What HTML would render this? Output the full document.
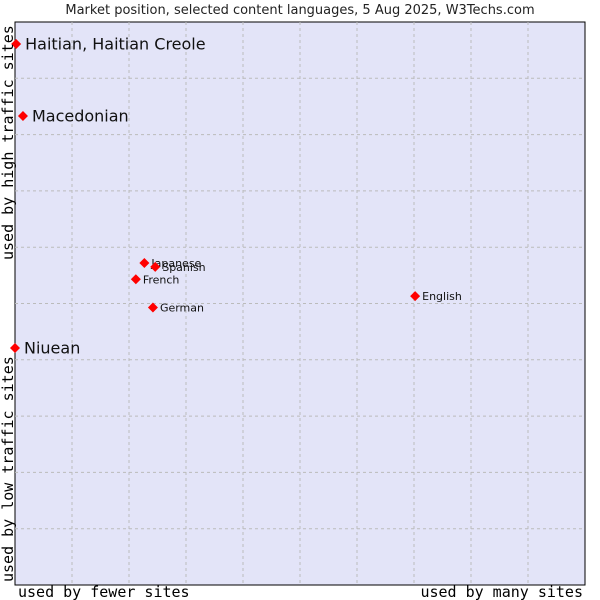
<!DOCTYPE html>
<html><head><meta charset="utf-8"><style>
body{margin:0;background:#fff;}
svg{display:block;font-family:"DejaVu Sans","Liberation Sans",sans-serif;}
</style></head><body>
<svg id="chart" width="600" height="600">
<text x="300" y="14" text-anchor="middle" font-size="13" fill="#222">Market position, selected content languages, 5 Aug 2025, W3Techs.com</text>
<rect x="15" y="22" width="570" height="563" fill="#e3e4f8" stroke="#000" stroke-width="1"/>
<g id="grid"></g>
<g id="marks"></g>
<text x="18" y="597" font-family="DejaVu Sans Mono,Liberation Mono,monospace" font-size="15" fill="#000">used by fewer sites</text>
<text x="583" y="597" text-anchor="end" font-family="DejaVu Sans Mono,Liberation Mono,monospace" font-size="15" fill="#000">used by many sites</text>
<text transform="translate(13,582) rotate(-90)" font-family="DejaVu Sans Mono,Liberation Mono,monospace" font-size="15" fill="#000">used by low traffic sites</text>
<text transform="translate(13,260) rotate(-90)" font-family="DejaVu Sans Mono,Liberation Mono,monospace" font-size="15" fill="#000">used by high traffic sites</text>
</svg>
<script>
const languages=["Haitian, Haitian Creole","Macedonian","Niuean","Japanese","Spanish","French","German","English"];
const xValues=[0.2,1.4,0,22.7,24.6,21.2,24.2,70.2];
const yValues=[96.1,83.3,42.1,57.2,56.5,54.3,49.3,51.3];
const bigLabel=[true,true,true,false,false,false,false,false];
const NS="http://www.w3.org/2000/svg";
const L=15,R=585,T=22,B=585;
const sx=v=>L+v/100*(R-L), sy=v=>B-v/100*(B-T);
const grid=document.getElementById('grid');
for(let i=1;i<10;i++){
  const gx=document.createElementNS(NS,'line');
  
  
  gx.setAttribute('x1',sx(i*10));gx.setAttribute('x2',sx(i*10));gx.setAttribute('y1',T);gx.setAttribute('y2',B);
  gx.setAttribute('stroke','#bbbbbb');gx.setAttribute('stroke-dasharray','3,3');grid.appendChild(gx);
  const gy=document.createElementNS(NS,'line');
  
  
  gy.setAttribute('x1',L);gy.setAttribute('x2',R);gy.setAttribute('y1',sy(i*10));gy.setAttribute('y2',sy(i*10));
  gy.setAttribute('stroke','#bbbbbb');gy.setAttribute('stroke-dasharray','3,3');grid.appendChild(gy);
}
const marks=document.getElementById('marks');
languages.forEach((n,i)=>{
  const x=sx(xValues[i]),y=sy(yValues[i]);
  const d=document.createElementNS(NS,'path');
  
  
  d.setAttribute('d',`M${x} ${y-5}L${x+5} ${y}L${x} ${y+5}L${x-5} ${y}Z`);
  d.setAttribute('fill','#f00');marks.appendChild(d);
  const t=document.createElementNS(NS,'text');
  
  
  t.setAttribute('x',x+(bigLabel[i]?9:7));t.setAttribute('y',y+(bigLabel[i]?5.5:4));
  t.setAttribute('font-size',bigLabel[i]?16:11);t.setAttribute('fill','#111');
  t.textContent=n;marks.appendChild(t);
});
</script>
</body></html>
